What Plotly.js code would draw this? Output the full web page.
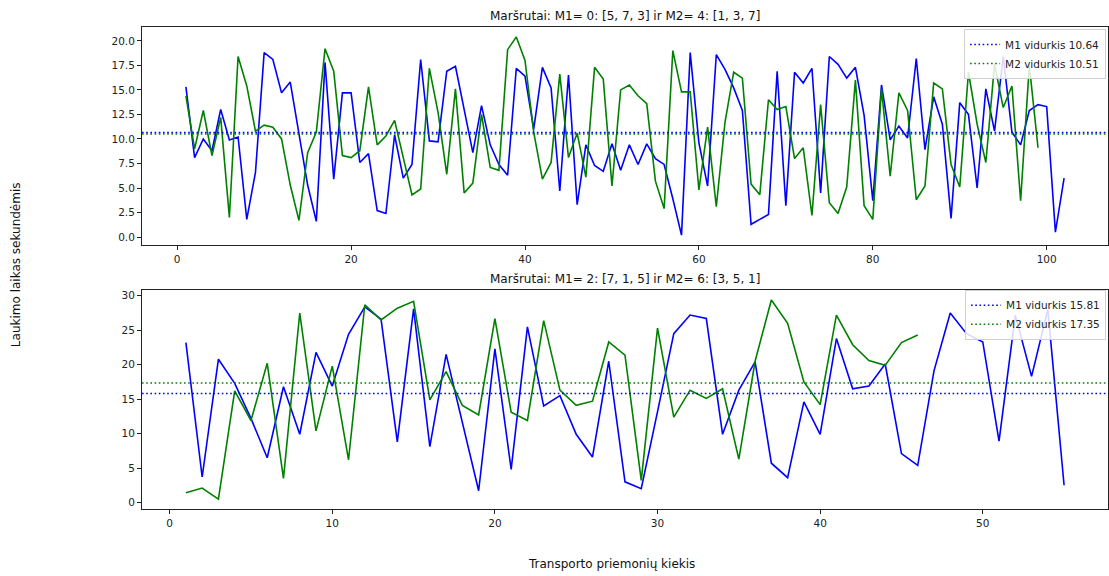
<!DOCTYPE html>
<html>
<head>
<meta charset="utf-8">
<script src="https://cdn.plot.ly/plotly-3.0.1.min.js"></script>
<style>
  html, body { margin: 0; padding: 0; background: #fff; }
  #chart { width: 1109px; height: 576px; }
</style>
</head>
<body>
<div id="chart"></div>
<script>
// Waiting times per vehicle for two route pairs
const titleTop = "Maršrutai: M1= 0: [5, 7, 3] ir M2= 4: [1, 3, 7]";
const titleBottom = "Maršrutai: M1= 2: [7, 1, 5] ir M2= 6: [3, 5, 1]";
const yLabel = "Laukimo laikas sekundėmis";
const xLabel = "Transporto priemonių kiekis";

const topM1 = [15.3, 8.1, 10.0, 8.8, 13.0, 9.9, 10.2, 1.8, 6.6, 18.8,
  18.1, 14.7, 15.8, 10.5, 5.3, 1.6, 17.8, 5.9, 14.7, 14.7,
  7.6, 8.5, 2.7, 2.4, 10.4, 6.0, 7.4, 18.1, 9.8, 9.7,
  16.9, 17.4, 12.9, 8.6, 13.4, 9.4, 7.4, 6.3, 17.2, 16.4,
  11.0, 17.3, 15.2, 4.7, 16.5, 3.3, 9.4, 7.3, 6.7, 9.5,
  6.8, 9.4, 7.4, 9.5, 8.0, 7.4, 3.9, 0.2, 18.8, 9.6,
  5.2, 18.6, 17.1, 15.2, 12.9, 1.3, 1.8, 2.3, 16.9, 3.2,
  16.8, 15.7, 17.2, 4.5, 18.4, 17.6, 16.2, 17.3, 12.4, 3.7,
  15.5, 9.9, 11.3, 10.1, 18.2, 8.9, 14.3, 11.5, 1.9, 13.7,
  12.5, 5.0, 15.1, 10.8, 18.4, 10.7, 9.4, 12.9, 13.5, 13.3,
  0.5, 6.0];
const topM2 = [14.4, 9.0, 12.9, 8.3, 12.2, 2.0, 18.4, 15.4, 10.8, 11.4,
  11.2, 10.0, 5.3, 1.7, 8.6, 10.7, 19.2, 16.9, 8.3, 8.1,
  8.8, 15.3, 9.4, 10.3, 11.9, 8.0, 4.3, 4.9, 17.2, 12.7,
  6.4, 15.1, 4.5, 5.5, 12.5, 7.1, 6.8, 19.1, 20.4, 18.0,
  10.7, 5.9, 7.6, 16.6, 8.1, 10.6, 6.1, 17.3, 16.1, 5.2,
  15.0, 15.5, 14.4, 13.6, 5.7, 2.9, 19.0, 14.8, 14.8, 4.8,
  11.2, 3.1, 11.7, 16.8, 16.2, 5.4, 4.3, 14.0, 13.0, 13.3,
  8.0, 9.1, 2.2, 13.5, 3.5, 2.4, 5.1, 16.0, 3.2, 1.8,
  15.1, 6.2, 14.7, 12.9, 3.8, 5.2, 15.7, 15.1, 7.4, 5.1,
  16.8, 11.5, 7.6, 17.6, 13.2, 15.4, 3.7, 17.5, 9.1];
const topMeans = [10.64, 10.51];

const botM1 = [23.2, 3.7, 20.8, 17.3, 12.2, 6.5, 16.8, 9.9, 21.8, 16.9,
  24.4, 28.4, 26.6, 8.8, 28.1, 8.1, 21.5, 11.7, 1.7, 22.3,
  4.8, 25.5, 14.0, 15.5, 9.9, 6.6, 20.5, 3.0, 2.0, 13.2,
  24.5, 27.2, 26.7, 9.9, 16.3, 20.4, 5.7, 3.6, 14.6, 9.9,
  23.8, 16.5, 16.9, 20.1, 7.1, 5.4, 19.1, 27.5, 24.5, 23.3,
  8.9, 27.2, 18.3, 28.0, 2.5];
const botM2 = [1.4, 2.1, 0.5, 16.2, 11.9, 20.2, 3.5, 27.5, 10.4, 19.8,
  6.2, 28.7, 26.5, 28.2, 29.2, 14.9, 19.0, 14.1, 12.7, 26.7,
  13.1, 11.9, 26.4, 16.3, 14.1, 14.7, 23.3, 21.4, 3.2, 25.3,
  12.4, 16.3, 15.1, 16.5, 6.3, 20.5, 29.4, 26.0, 17.5, 14.2,
  27.2, 22.9, 20.6, 19.9, 23.2, 24.3];
const botMeans = [15.81, 17.35];

const seriesNames = ["M1 vidurkis", "M2 vidurkis"];
const colors = ["#0000ff", "#008000"];
const FONT = "DejaVu Sans, sans-serif";

const idx = arr => arr.map((_, i) => i + 1);

// axis limits padded by 5% on each side
function padded(lo, hi) {
  const m = (hi - lo) * 0.05;
  return [lo - m, hi + m];
}
function xLimits(a, b) { return padded(1, Math.max(a.length, b.length)); }
function yLimits(a, b, means) {
  const all = a.concat(b, means);
  return padded(Math.min(...all), Math.max(...all));
}

const xrTop = xLimits(topM1, topM2);
const yrTop = yLimits(topM1, topM2, topMeans);
const xrBot = xLimits(botM1, botM2);
const yrBot = yLimits(botM1, botM2, botMeans);

function seriesTrace(y, color, xa, ya) {
  return { x: idx(y), y: y, type: "scatter", mode: "lines", xaxis: xa, yaxis: ya,
    line: { color: color, width: 1.6 }, showlegend: false, hoverinfo: "skip" };
}
function meanTrace(v, name, color, xr, xa, ya, legend) {
  return { x: [xr[0], xr[1]], y: [v, v], type: "scatter", mode: "lines",
    xaxis: xa, yaxis: ya, legend: legend,
    name: name + " " + v.toFixed(2),
    line: { color: color, width: 1.6, dash: "1.6px,2.6px" } };
}

const traces = [
  seriesTrace(topM1, colors[0], "x", "y"),
  seriesTrace(topM2, colors[1], "x", "y"),
  meanTrace(topMeans[0], seriesNames[0], colors[0], xrTop, "x", "y", "legend"),
  meanTrace(topMeans[1], seriesNames[1], colors[1], xrTop, "x", "y", "legend"),
  seriesTrace(botM1, colors[0], "x2", "y2"),
  seriesTrace(botM2, colors[1], "x2", "y2"),
  meanTrace(botMeans[0], seriesNames[0], colors[0], xrBot, "x2", "y2", "legend2"),
  meanTrace(botMeans[1], seriesNames[1], colors[1], xrBot, "x2", "y2", "legend2")
];

const axisStyle = {
  showgrid: false, zeroline: false, showline: true, mirror: true,
  linecolor: "#222", linewidth: 1,
  ticks: "outside", ticklen: 4, tickwidth: 1, tickcolor: "#222",
  tickfont: { family: FONT, size: 10.5, color: "#222" }
};

function legendStyle(y) {
  return {
    x: 0.998, xanchor: "right", y: y, yanchor: "top",
    bgcolor: "rgba(255,255,255,0.85)", bordercolor: "#d0d0d0", borderwidth: 1,
    font: { family: FONT, size: 10.5, color: "#222" },
    itemwidth: 30, tracegroupgap: 0
  };
}

const layout = {
  width: 1109, height: 576,
  margin: { l: 142, r: 1, t: 27, b: 67 },
  paper_bgcolor: "#fff", plot_bgcolor: "#fff",
  font: { family: FONT, color: "#222" },
  xaxis: Object.assign({}, axisStyle, { domain: [0, 1], anchor: "y", range: xrTop, dtick: 20, tick0: 0 }),
  yaxis: Object.assign({}, axisStyle, { domain: [0.5477, 1], anchor: "x", range: yrTop, dtick: 2.5, tick0: 0, tickformat: ".1f" }),
  xaxis2: Object.assign({}, axisStyle, { domain: [0, 1], anchor: "y2", range: xrBot, dtick: 10, tick0: 0 }),
  yaxis2: Object.assign({}, axisStyle, { domain: [0, 0.4544], anchor: "x2", range: yrBot, dtick: 5, tick0: 0 }),
  legend: legendStyle(0.996),
  legend2: legendStyle(0.455),
  showlegend: true,
  annotations: [
    { text: titleTop, xref: "paper", yref: "paper", x: 0.5, y: 1.0228, xanchor: "center", yanchor: "middle",
      showarrow: false, font: { family: FONT, size: 12, color: "#111" } },
    { text: titleBottom, xref: "paper", yref: "paper", x: 0.5, y: 0.477, xanchor: "center", yanchor: "middle",
      showarrow: false, font: { family: FONT, size: 12, color: "#111" } },
    { text: yLabel, xref: "paper", yref: "paper", x: -0.1304, y: 0.506, xanchor: "center", yanchor: "middle",
      textangle: -90, showarrow: false, font: { family: FONT, size: 12, color: "#111" } },
    { text: xLabel, xref: "paper", yref: "paper", x: 0.4865, y: -0.114, xanchor: "center", yanchor: "middle",
      showarrow: false, font: { family: FONT, size: 12, color: "#111" } }
  ]
};

Plotly.newPlot("chart", traces, layout, { displayModeBar: false, staticPlot: true });
</script>
</body>
</html>
